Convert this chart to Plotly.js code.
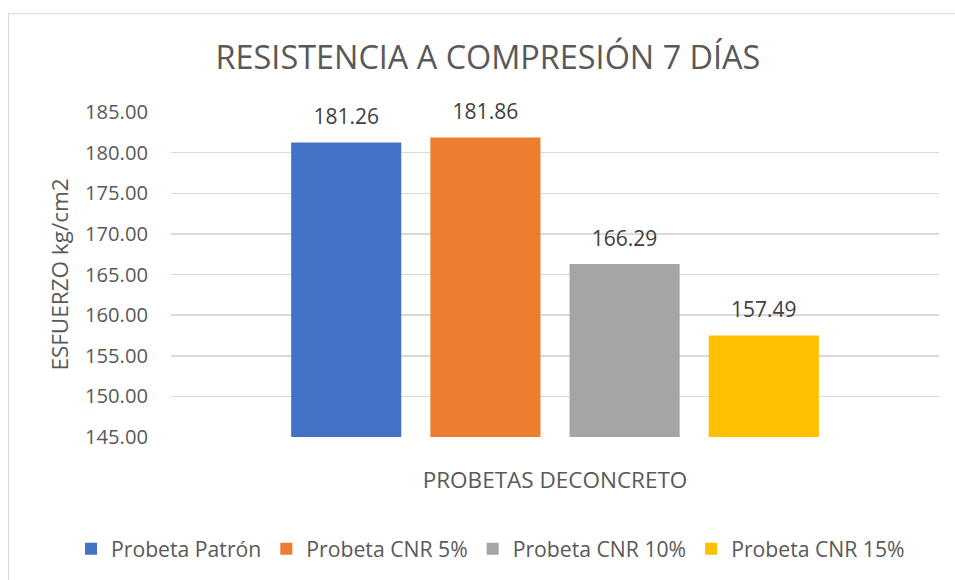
<!DOCTYPE html>
<html>
<head>
<meta charset="utf-8">
<script src="https://cdn.plot.ly/plotly-3.0.1.min.js"></script>
<style>
html,body{margin:0;padding:0;background:#fff;}
#chart{width:955px;height:580px;}
</style>
</head>
<body>
<div id="chart"></div>
<script>
const category = ["PROBETAS DECONCRETO"];
const seriesNames = ["Probeta Patrón", "Probeta CNR 5%", "Probeta CNR 10%", "Probeta CNR 15%"];
const seriesValues = [181.26, 181.86, 166.29, 157.49];
const seriesColors = ["#4472C4", "#ED7D31", "#A5A5A5", "#FFC000"];
const yTickValues = [145, 150, 155, 160, 165, 170, 175, 180, 185];

const FONT = "Open Sans, Liberation Sans, sans-serif";

const barTraces = seriesNames.map((name, i) => ({
  type: "bar",
  name: name,
  x: category,
  y: [seriesValues[i]],
  offsetgroup: "g" + i,
  marker: {color: seriesColors[i]},
  hoverinfo: "none"
}));

// value labels, placed above each bar through the same grouped category scale
const labelTraces = seriesNames.map((name, i) => ({
  type: "scatter",
  mode: "markers+text",
  name: name + " label",
  x: category,
  y: [seriesValues[i]],
  offsetgroup: "g" + i,
  marker: {size: 19, color: "rgba(0,0,0,0)"},
  text: [seriesValues[i].toFixed(2)],
  textposition: "top center",
  textfont: {family: FONT, size: 21, color: "#404040"},
  cliponaxis: false,
  showlegend: false,
  hoverinfo: "none"
}));

const layout = {
  width: 955,
  height: 580,
  paper_bgcolor: "#ffffff",
  plot_bgcolor: "#ffffff",
  margin: {l: 171, r: 16, t: 112, b: 142},
  font: {family: FONT, color: "#595959"},
  title: {
    text: "RESISTENCIA A COMPRESIÓN 7 DÍAS",
    font: {family: FONT, size: 32.4, color: "#595959"},
    x: 0.511, xanchor: "center", xref: "container",
    y: 1 - 58/580, yanchor: "middle", yref: "container"
  },
  barmode: "group",
  bargap: 0.275,
  bargroupgap: 0.209,
  scattermode: "group",
  scattergap: 0.275,
  xaxis: {
    type: "category",
    showgrid: false,
    showline: false,
    zeroline: false,
    ticks: "",
    ticklabelstandoff: 27,
    tickfont: {family: FONT, size: 22.5, color: "#595959"}
  },
  yaxis: {
    range: [145, 185],
    tickvals: yTickValues,
    ticktext: yTickValues.map(v => v.toFixed(2)),
    showgrid: true,
    gridcolor: "#D9D9D9",
    gridwidth: 1.5,
    zeroline: false,
    showline: false,
    ticks: "",
    ticklabelstandoff: 22,
    tickfont: {family: FONT, size: 20.2, color: "#595959"},
    title: {
      text: "ESFUERZO kg/cm2",
      font: {family: FONT, size: 22.5, color: "#595959"},
      standoff: 10
    }
  },
  showlegend: true,
  legend: {
    orientation: "h",
    x: (71 - 171) / 768, xanchor: "left", xref: "paper",
    y: (438 - 549) / 326, yanchor: "middle", yref: "paper",
    font: {family: FONT, size: 21.2, color: "#595959"},
    itemclick: false,
    traceorder: "normal"
  },
  shapes: [{
    type: "rect",
    xref: "paper", yref: "paper",
    x0: (8.5 - 171) / 768, x1: (960 - 171) / 768,
    y0: (438 - 600) / 326, y1: (438 - 13.5) / 326,
    line: {color: "#D9D9D9", width: 1},
    fillcolor: "rgba(0,0,0,0)",
    layer: "below"
  }]
};

Plotly.newPlot("chart", barTraces.concat(labelTraces), layout, {displayModeBar: false, staticPlot: true});
</script>
</body>
</html>
